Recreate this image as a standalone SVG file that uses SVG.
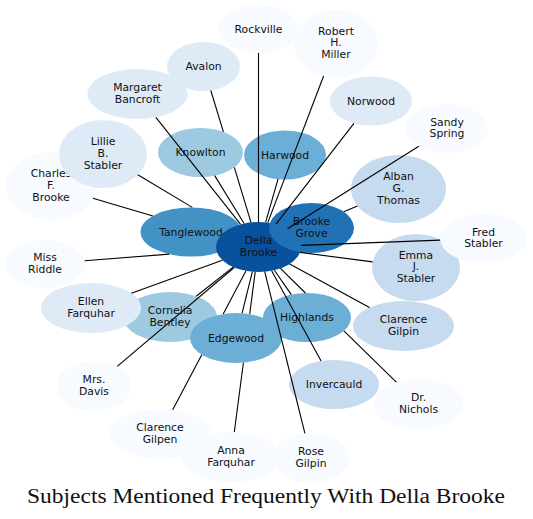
<svg xmlns="http://www.w3.org/2000/svg" width="533" height="519" viewBox="0 0 533 519">
<style>
.n text{font-family:"DejaVu Sans",Verdana,sans-serif;font-size:10.8px;fill:#111;text-anchor:middle}
.c0{fill:#08519c}.c1{fill:#2171b5}.c2{fill:#4292c6}.c3{fill:#6baed6}.c4{fill:#9ecae1}.c5{fill:#c6dbef}.c6{fill:#deebf7}.c7{fill:#f7fbff}
#edges line{stroke:#000;stroke-width:1.1;stroke-linecap:butt}
.title{font-family:"Liberation Serif","Times New Roman",serif;font-size:20px;fill:#111}
</style>
<rect width="533" height="519" fill="#fff"/>
<g id="nodes">
<g id="n-rockville" class="n"><ellipse class="c7" cx="258.5" cy="29" rx="40" ry="24"/><text x="258.5" y="32.5">Rockville</text></g>
<g id="n-robert-h-miller" class="n"><ellipse class="c7" cx="336" cy="43.5" rx="42" ry="34"/><text x="336" y="34.5">Robert</text><text x="336" y="46.3">H.</text><text x="336" y="58">Miller</text></g>
<g id="n-avalon" class="n"><ellipse class="c6" cx="203.5" cy="66.5" rx="36.5" ry="24.5"/><text x="203.5" y="70">Avalon</text></g>
<g id="n-margaret-bancroft" class="n"><ellipse class="c6" cx="137.5" cy="94" rx="50" ry="25"/><text x="137.5" y="91">Margaret</text><text x="137.5" y="102.8">Bancroft</text></g>
<g id="n-charles-f-brooke" class="n"><ellipse class="c7" cx="51" cy="186" rx="45" ry="34"/><text x="51" y="177">Charles</text><text x="51" y="188.8">F.</text><text x="51" y="200.5">Brooke</text></g>
<g id="n-lillie-b-stabler" class="n"><ellipse class="c6" cx="103" cy="154" rx="44" ry="34"/><text x="103" y="145">Lillie</text><text x="103" y="156.8">B.</text><text x="103" y="168.5">Stabler</text></g>
<g id="n-knowlton" class="n"><ellipse class="c4" cx="200.5" cy="152.5" rx="42.5" ry="24.5"/><text x="200.5" y="156">Knowlton</text></g>
<g id="n-harwood" class="n"><ellipse class="c3" cx="285" cy="155" rx="41" ry="24.5"/><text x="285" y="158.5">Harwood</text></g>
<g id="n-norwood" class="n"><ellipse class="c6" cx="371" cy="101" rx="41" ry="24.5"/><text x="371" y="104.5">Norwood</text></g>
<g id="n-sandy-spring" class="n"><ellipse class="c7" cx="447" cy="128.5" rx="41" ry="24.5"/><text x="447" y="125.5">Sandy</text><text x="447" y="137.3">Spring</text></g>
<g id="n-alban-g-thomas" class="n"><ellipse class="c5" cx="398.5" cy="189" rx="47.5" ry="34"/><text x="398.5" y="180">Alban</text><text x="398.5" y="191.8">G.</text><text x="398.5" y="203.5">Thomas</text></g>
<g id="n-miss-riddle" class="n"><ellipse class="c7" cx="45" cy="264" rx="40" ry="24"/><text x="45" y="261">Miss</text><text x="45" y="272.8">Riddle</text></g>
<g id="n-tanglewood" class="n"><ellipse class="c2" cx="191" cy="232" rx="50.5" ry="24.5"/><text x="191" y="235.5">Tanglewood</text></g>
<g id="n-della-brooke" class="n"><ellipse class="c0" cx="258.5" cy="247" rx="42.5" ry="25"/><text x="258.5" y="244">Della</text><text x="258.5" y="255.8">Brooke</text></g>
<g id="n-brooke-grove" class="n"><ellipse class="c1" cx="311.5" cy="228" rx="42.5" ry="25"/><text x="311.5" y="225">Brooke</text><text x="311.5" y="236.8">Grove</text></g>
<g id="n-emma-j-stabler" class="n"><ellipse class="c5" cx="416" cy="267.5" rx="44" ry="33.5"/><text x="416" y="258.5">Emma</text><text x="416" y="270.3">J.</text><text x="416" y="282">Stabler</text></g>
<g id="n-fred-stabler" class="n"><ellipse class="c7" cx="483.5" cy="238.5" rx="43.5" ry="24.5"/><text x="483.5" y="235.5">Fred</text><text x="483.5" y="247.3">Stabler</text></g>
<g id="n-cornelia-bentley" class="n"><ellipse class="c4" cx="170" cy="317" rx="47" ry="25"/><text x="170" y="314">Cornelia</text><text x="170" y="325.8">Bentley</text></g>
<g id="n-ellen-farquhar" class="n"><ellipse class="c6" cx="91" cy="308" rx="50" ry="25"/><text x="91" y="305">Ellen</text><text x="91" y="316.8">Farquhar</text></g>
<g id="n-edgewood" class="n"><ellipse class="c3" cx="236" cy="338" rx="46" ry="25"/><text x="236" y="341.5">Edgewood</text></g>
<g id="n-highlands" class="n"><ellipse class="c3" cx="307" cy="317.5" rx="44" ry="24.5"/><text x="307" y="321">Highlands</text></g>
<g id="n-clarence-gilpin" class="n"><ellipse class="c5" cx="403.5" cy="326" rx="50.5" ry="25"/><text x="403.5" y="323">Clarence</text><text x="403.5" y="334.8">Gilpin</text></g>
<g id="n-invercauld" class="n"><ellipse class="c5" cx="334" cy="384.5" rx="45" ry="24.5"/><text x="334" y="388">Invercauld</text></g>
<g id="n-dr-nichols" class="n"><ellipse class="c7" cx="418.5" cy="404" rx="45" ry="25"/><text x="418.5" y="401">Dr.</text><text x="418.5" y="412.8">Nichols</text></g>
<g id="n-mrs-davis" class="n"><ellipse class="c7" cx="94" cy="386" rx="37.5" ry="25"/><text x="94" y="383">Mrs.</text><text x="94" y="394.8">Davis</text></g>
<g id="n-clarence-gilpen" class="n"><ellipse class="c7" cx="160" cy="434" rx="50.5" ry="25"/><text x="160" y="431">Clarence</text><text x="160" y="442.8">Gilpen</text></g>
<g id="n-anna-farquhar" class="n"><ellipse class="c7" cx="231" cy="457" rx="50" ry="25"/><text x="231" y="454">Anna</text><text x="231" y="465.8">Farquhar</text></g>
<g id="n-rose-gilpin" class="n"><ellipse class="c7" cx="311" cy="458" rx="38" ry="25"/><text x="311" y="455">Rose</text><text x="311" y="466.8">Gilpin</text></g>
</g>
<g id="edges">
<line x1="258.5" y1="222" x2="258.5" y2="53"/>
<line x1="251" y1="222.4" x2="234.3" y2="167.4"/>
<line x1="223.4" y1="131.8" x2="210.8" y2="90.5"/>
<line x1="240.6" y1="224.3" x2="155.9" y2="117.3"/>
<line x1="137.8" y1="174.8" x2="192.3" y2="207.4"/>
<line x1="92.9" y1="198.3" x2="152.9" y2="216"/>
<line x1="84.6" y1="260.8" x2="169.2" y2="254.1"/>
<line x1="222.4" y1="260.2" x2="131.4" y2="293.3"/>
<line x1="233.1" y1="267.1" x2="196.2" y2="296.3"/>
<line x1="234.2" y1="267.5" x2="117.2" y2="366.4"/>
<line x1="245.9" y1="270.9" x2="223.2" y2="314"/>
<line x1="201.8" y1="354.7" x2="172.7" y2="409.8"/>
<line x1="252.4" y1="271.7" x2="242.1" y2="313.2"/>
<line x1="255.2" y1="271.9" x2="249.7" y2="314.1"/>
<line x1="243.4" y1="362.7" x2="234.3" y2="432"/>
<line x1="264.7" y1="271.7" x2="304.9" y2="433.3"/>
<line x1="271.6" y1="270.8" x2="321.1" y2="361"/>
<line x1="274.4" y1="270.2" x2="291.3" y2="294.6"/>
<line x1="280.4" y1="268.4" x2="305.4" y2="293"/>
<line x1="343.9" y1="330.8" x2="396.3" y2="382.2"/>
<line x1="289.7" y1="264" x2="369.5" y2="307.5"/>
<line x1="300" y1="252.4" x2="372.6" y2="261.9"/>
<line x1="300.9" y1="245.4" x2="440.1" y2="240.1"/>
<line x1="343.8" y1="211.7" x2="357.4" y2="206"/>
<line x1="287.5" y1="228.7" x2="418.8" y2="146.3"/>
<line x1="276" y1="224.2" x2="353.9" y2="123.3"/>
<line x1="267.8" y1="222.6" x2="323.6" y2="76"/>
<line x1="265.6" y1="222.3" x2="278" y2="179.2"/>
<line x1="244.1" y1="223.5" x2="214.7" y2="175.6"/>
</g>
<text class="title" x="27" y="503" textLength="478" lengthAdjust="spacingAndGlyphs">Subjects Mentioned Frequently With Della Brooke</text>
</svg>
